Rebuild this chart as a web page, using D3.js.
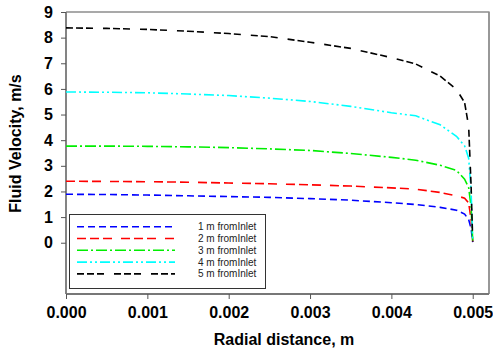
<!DOCTYPE html>
<html>
<head>
<meta charset="utf-8">
<script src="https://cdn.jsdelivr.net/npm/d3@7"></script>
<style>
  html, body { margin: 0; padding: 0; background: #fff; }
  svg { display: block; font-family: Arial, "Liberation Sans", sans-serif; }
</style>
</head>
<body>
<svg id="chart" width="493" height="360"></svg>
<script>
// Radial positions (m) shared by every profile
const radius = [0, 0.0005, 0.001, 0.0015, 0.002, 0.0025, 0.003, 0.0035, 0.004, 0.0043, 0.0046, 0.0048, 0.0049, 0.00495, 0.00498, 0.005];

// Fluid velocity (m/s) at each radius, one array per distance from inlet
const v1m = [1.89, 1.88, 1.86, 1.83, 1.80, 1.77, 1.72, 1.66, 1.56, 1.49, 1.38, 1.27, 1.12, 0.90, 0.55, 0.02];
const v2m = [2.40, 2.39, 2.38, 2.36, 2.33, 2.30, 2.26, 2.21, 2.14, 2.09, 1.96, 1.83, 1.74, 1.55, 0.90, 0.05];
const v3m = [3.77, 3.77, 3.76, 3.74, 3.71, 3.66, 3.60, 3.48, 3.33, 3.22, 3.02, 2.82, 2.48, 2.15, 1.40, 0.05];
const v4m = [5.88, 5.87, 5.85, 5.80, 5.74, 5.64, 5.51, 5.32, 5.07, 4.95, 4.60, 4.15, 3.78, 3.30, 2.00, 0.05];
const v5m = [8.38, 8.36, 8.32, 8.25, 8.16, 8.04, 7.82, 7.58, 7.22, 6.97, 6.50, 5.98, 5.47, 4.54, 2.20, 0.05];

const seriesNames = ["1 m fromInlet", "2 m fromInlet", "3 m fromInlet", "4 m fromInlet", "5 m fromInlet"];
const seriesValues = [v1m, v2m, v3m, v4m, v5m];
const seriesColors = ["#0000ff", "#ff0000", "#00ee00", "#00ffff", "#000000"];
const seriesDashes = ["7,4", "9,4,9,4,9,9", "11,3,2,3", "10,3,2,3,2,3", "7,3,7,3,7,10"];

const xTicks = [0, 0.001, 0.002, 0.003, 0.004, 0.005];
const yTicks = [0, 1, 2, 3, 4, 5, 6, 7, 8, 9];

const svg = d3.select("#chart");
const plotL = 66, plotR = 489, plotT = 12, plotB = 294;

const x = d3.scaleLinear().domain([0, 0.0052]).range([plotL, plotR]);
const y = d3.scaleLinear().domain([-2, 9]).range([plotB, plotT]);

// Frame (top and right edges)
svg.append("path")
  .attr("d", `M${plotL},${plotT}H${plotR}V${plotB}`)
  .attr("fill", "none")
  .attr("stroke", "#555")
  .attr("stroke-width", 1.2);
svg.append("line")
  .attr("x1", plotR).attr("x2", plotR).attr("y1", plotT).attr("y2", plotB)
  .attr("stroke", "#999").attr("stroke-width", 1.5);

// Axes
const xAxis = d3.axisBottom(x).tickValues(xTicks).tickFormat(d3.format(".3f")).tickSizeInner(5).tickSizeOuter(0).tickPadding(8);
const yAxis = d3.axisLeft(y).tickValues(yTicks).tickFormat(d3.format("d")).tickSizeInner(5).tickSizeOuter(0).tickPadding(8);

const gx = svg.append("g").attr("transform", `translate(0,${plotB})`).call(xAxis);
const gy = svg.append("g").attr("transform", `translate(${plotL},0)`).call(yAxis);

[gx, gy].forEach(g => {
  g.select(".domain").attr("stroke", "#777").attr("stroke-width", 1.8);
  g.selectAll(".tick line").attr("stroke", "#555").attr("stroke-width", 1);
  g.selectAll(".tick text")
    .attr("fill", "#000")
    .style("font-size", "16px")
    .style("font-weight", "bold")
    .style("font-family", "Arial, 'Liberation Sans', sans-serif");
});
gx.select(".domain").attr("d", `M${plotL},0H${plotR}`);
gy.select(".domain").attr("d", `M0,${plotT}V${plotB}`);

// Profiles
const line = d3.line()
  .x((d, i) => x(radius[i]))
  .y(d => y(d));

seriesValues.forEach((vals, k) => {
  svg.append("path")
    .datum(vals)
    .attr("d", line)
    .attr("fill", "none")
    .attr("stroke", seriesColors[k])
    .attr("stroke-width", 1.6)
    .attr("stroke-dasharray", seriesDashes[k]);
});

// Legend
const lg = svg.append("g");
lg.append("rect")
  .attr("x", 69.5).attr("y", 214.5).attr("width", 196).attr("height", 74)
  .attr("fill", "#fff").attr("stroke", "#333").attr("stroke-width", 1);

seriesNames.forEach((name, k) => {
  const yy = 226.7 + k * 11.8;
  lg.append("line")
    .attr("x1", 77).attr("x2", 175).attr("y1", yy).attr("y2", yy)
    .attr("stroke", seriesColors[k])
    .attr("stroke-width", 1.6)
    .attr("stroke-dasharray", seriesDashes[k]);
  lg.append("text")
    .attr("x", 198).attr("y", yy + 3.5)
    .attr("fill", "#222")
    .style("font-size", "10px")
    .text(name);
});

// Axis titles
svg.append("text")
  .attr("x", 284).attr("y", 345)
  .attr("text-anchor", "middle")
  .style("font-size", "16px").style("font-weight", "bold")
  .text("Radial distance, m");

svg.append("text")
  .attr("transform", "translate(21,143.5) rotate(-90)")
  .attr("text-anchor", "middle")
  .style("font-size", "16px").style("font-weight", "bold")
  .text("Fluid Velocity, m/s");
</script>
</body>
</html>
